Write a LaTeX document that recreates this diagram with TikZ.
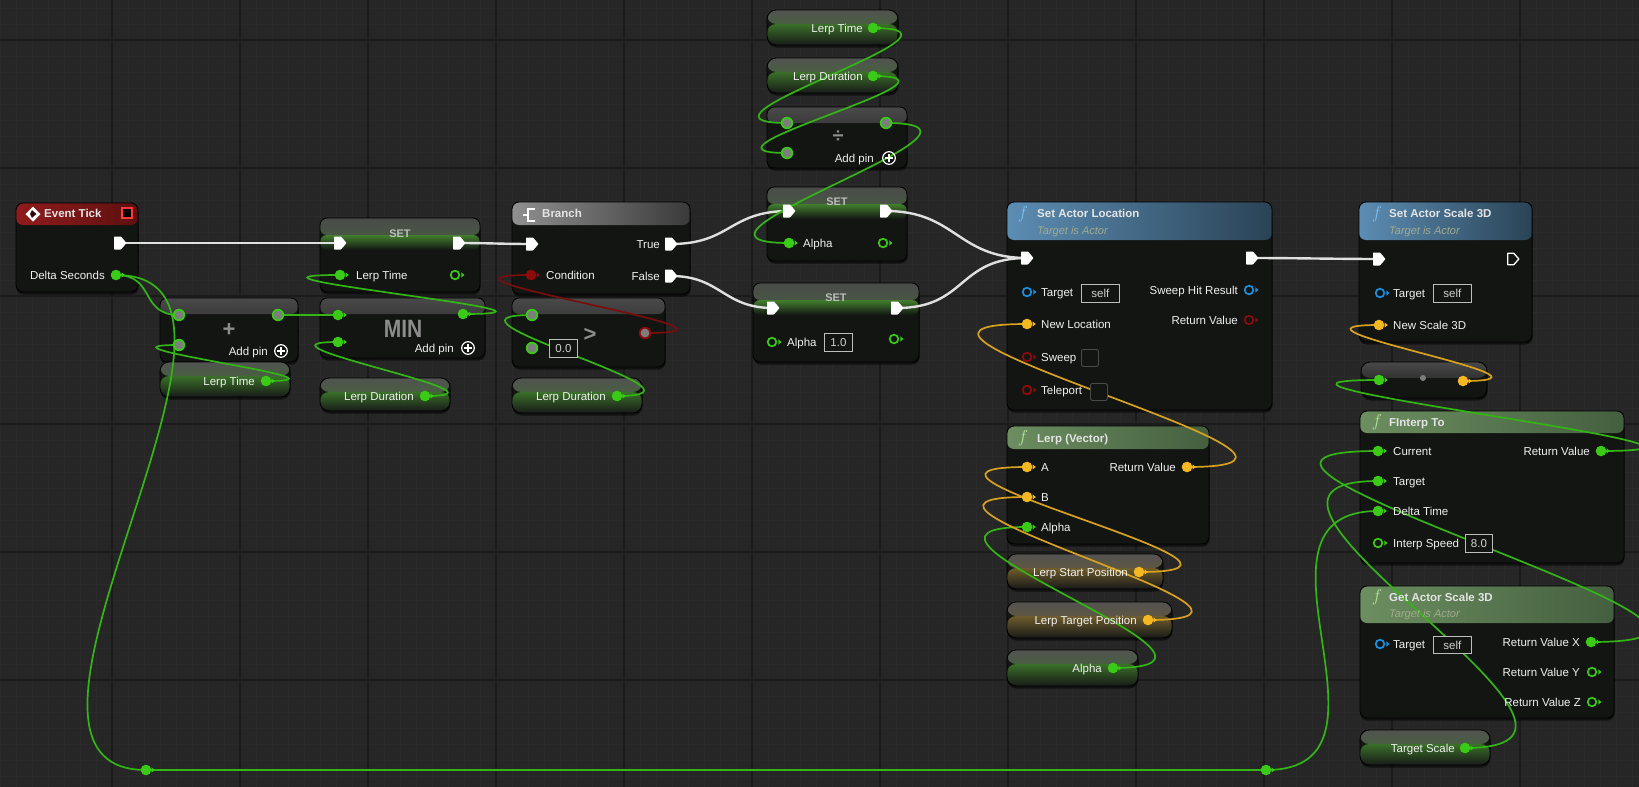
\documentclass[tikz,border=0pt]{standalone}
\usepackage{fontspec}
\setmainfont{Liberation Sans}
\usetikzlibrary{shadows}
\definecolor{bg}{HTML}{262626}
\definecolor{gminor}{HTML}{2A2A2A}
\definecolor{gmajor}{HTML}{1B1B1B}
\definecolor{body}{HTML}{131513}
\definecolor{evL}{HTML}{901C1C}
\definecolor{evR}{HTML}{5E1010}
\definecolor{brL}{HTML}{909090}
\definecolor{brR}{HTML}{3A3A3A}
\definecolor{buL}{HTML}{5C8DB3}
\definecolor{buR}{HTML}{2A4356}
\definecolor{grL}{HTML}{6C8E60}
\definecolor{grR}{HTML}{445F3F}
\definecolor{setT}{HTML}{4A4A4A}
\definecolor{setG}{HTML}{427F2E}
\definecolor{cmpT}{HTML}{4A4A4A}
\definecolor{getT}{HTML}{525252}
\definecolor{getG}{HTML}{3A7029}
\definecolor{getB}{HTML}{181A18}
\definecolor{yelG}{HTML}{6E5C2C}
\definecolor{txt}{HTML}{F0F0F0}
\definecolor{ttlc}{HTML}{E4E4E4}
\definecolor{setc}{HTML}{BDBDBD}
\definecolor{subc}{HTML}{A3AB8E}
\definecolor{boxc}{HTML}{BDBDBD}
\definecolor{boxt}{HTML}{D0D0D0}
\definecolor{chkc}{HTML}{4A4A4A}
\definecolor{opc}{HTML}{8C8C8C}
\definecolor{fblue}{HTML}{7CC0F0}
\definecolor{fgreen}{HTML}{B4E49A}
\definecolor{pgreen}{HTML}{3ACB16}
\definecolor{wgreen}{HTML}{33B515}
\definecolor{pyellow}{HTML}{F5B820}
\definecolor{wyellow}{HTML}{D9A21E}
\definecolor{pred}{HTML}{8E0B0B}
\definecolor{wred}{HTML}{7A0D0D}
\definecolor{pblue}{HTML}{1B8FE0}
\definecolor{wexec}{HTML}{E0E0E0}
\definecolor{wildg}{HTML}{7D7D7D}
\definecolor{evsq}{HTML}{FF3A3A}

\newcommand\lblfont{\fontsize{11.5pt}{13pt}\selectfont}
\newcommand\subfont{\fontsize{11pt}{13pt}\selectfont}
\newcommand\bpn[6]{\node[#2, minimum width={(#5-(#3))*1pt}, minimum height={(#6-(#4))*1pt}] (#1) at (#3,#4) {};}
\newcommand\wire[4]{\draw[#1] (#2) .. controls ([xshift=#4pt]#2) and ([xshift=-#4pt]#3) .. (#3);}
\newcommand\pinX[1]{\fill[white, shift={(#1)}, rounded corners=0.7pt] (-6,-6.5) -- (1,-6.5) -- (6.5,0) -- (1,6.5) -- (-6,6.5) -- cycle;}
\newcommand\pinXo[1]{\draw[white, line width=1.3pt, line join=round, shift={(#1)}] (-5.3,-5.8) -- (0.7,-5.8) -- (5.8,0) -- (0.7,5.8) -- (-5.3,5.8) -- cycle;}
\newcommand\pinD[2]{\fill[#1] (#2) circle (5.3pt); \fill[#1, shift={(#2)}] (5.5,-2.6) -- (8.8,0) -- (5.5,2.6) -- cycle;}
\newcommand\pinH[2]{\draw[#1, line width=1.7pt, fill=body] (#2) circle (4.3pt); \fill[#1, shift={(#2)}] (6.4,-2.6) -- (9.4,0) -- (6.4,2.6) -- cycle;}
\newcommand\pinW[2]{\fill[#1] (#2) circle (6.2pt); \fill[wildg] (#2) circle (4.4pt);}
\newcommand\addpin[2]{\draw[white, line width=1.2pt] (#1,#2) circle (6.3pt); \draw[white, line width=1.4pt] (#1-3.6,#2) -- (#1+3.6,#2) (#1,#2-3.6) -- (#1,#2+3.6);}

\begin{document}
\begin{tikzpicture}[x=1pt,y=-1pt,
  bp/.style={draw=black, line width=0.9pt, rounded corners=7pt, fill=body, inner sep=0pt, outer sep=0pt, anchor=north west,
     drop shadow={shadow xshift=0.5pt, shadow yshift=-2.5pt, opacity=0.55, fill=black}},
  hdr/.style n args={3}{path picture={\shade[left color=#1, right color=#2] ([yshift=1pt]path picture bounding box.north west) rectangle ([yshift=-#3pt]path picture bounding box.north east);}},
  seth/.style={path picture={\shade[top color=setT, bottom color=setG] ([yshift=1pt]path picture bounding box.north west) rectangle ([yshift=-17pt]path picture bounding box.north east);
      \shade[top color=setG, bottom color=body] ([yshift=-17pt]path picture bounding box.north west) rectangle ([yshift=-#1pt]path picture bounding box.north east);}},
  cmph/.style={path picture={\shade[top color=cmpT, bottom color=body] ([yshift=1pt]path picture bounding box.north west) rectangle ([yshift=-16pt]path picture bounding box.north east);}},
  getter/.style={bp, rounded corners=9pt, path picture={\shade[top color=getT, bottom color=#1] ([yshift=1pt]path picture bounding box.north west) rectangle ([yshift=-14pt]path picture bounding box.north east);
      \shade[top color=#1, bottom color=getB] ([yshift=-14pt]path picture bounding box.north west) rectangle (path picture bounding box.south east);}},
  getter/.default=getG,
  lbl/.style={inner sep=0pt, text=txt, font=\lblfont, text height=8.2pt, text depth=0pt},
  ttl/.style={inner sep=0pt, text=ttlc, font=\lblfont\bfseries, anchor=west, text height=8.2pt, text depth=0pt},
  sett/.style={inner sep=0pt, text=setc, font=\fontsize{11pt}{12pt}\selectfont\bfseries, text height=8pt, text depth=0pt},
  sub/.style={inner sep=0pt, text=subc, font=\subfont\itshape, anchor=west, text height=8pt, text depth=0pt},
  fic/.style={inner sep=0pt, font=\fontsize{17pt}{17pt}\selectfont},
  opt/.style={inner sep=0pt, text=opc, font=\fontsize{22pt}{22pt}\selectfont\bfseries},
  tbox/.style={draw=boxc, line width=0.8pt, fill=body, text=boxt, font=\lblfont, inner sep=0pt, anchor=north west},
  chk/.style={draw=chkc, line width=0.9pt, rounded corners=2pt, fill=body, inner sep=0pt, anchor=north west, minimum size=17pt},
  exw/.style={line width=2.4pt, draw=wexec},
  gw/.style={line width=1.7pt, draw=wgreen},
  yw/.style={line width=1.7pt, draw=wyellow},
  rw/.style={line width=1.7pt, draw=wred},
]
\useasboundingbox (0,0) rectangle (1639,787);
\clip (0,0) rectangle (1639,787);
\fill[bg] (0,0) rectangle (1639,787);
\foreach \x in {0,16,...,1632} \draw[gminor, line width=0.7pt] (\x,0) -- (\x,787);
\foreach \y in {8,24,...,776} \draw[gminor, line width=0.7pt] (0,\y) -- (1639,\y);
\foreach \x in {112,240,...,1520} \draw[gmajor, line width=1.3pt] (\x,0) -- (\x,787);
\foreach \y in {40,168,...,680} \draw[gmajor, line width=1.3pt] (0,\y) -- (1639,\y);

% ---------- node bodies ----------
\bpn{evt}{bp, hdr={evL}{evR}{22}}{16}{203}{138}{292}
\bpn{set1}{bp, seth=32}{320}{218}{480}{292}
\bpn{plus}{bp, cmph}{160}{298}{298}{362}
\bpn{glt1}{getter}{160}{362}{290}{397}
\bpn{min}{bp, cmph}{320}{298}{485}{358}
\bpn{gld1}{getter}{320}{378}{450}{411}
\bpn{br}{bp, hdr={brL}{brR}{23}}{512}{202}{690}{294}
\bpn{gt}{bp, cmph}{512}{298}{665}{367}
\bpn{gld2}{getter}{512}{378}{642}{413}
\bpn{glt2}{getter}{767}{10}{898}{45}
\bpn{gld3}{getter}{767}{58}{898}{93}
\bpn{div}{bp, cmph}{767}{107}{907}{168}
\bpn{seta}{bp, seth=32}{767}{187}{907}{261}
\bpn{setb}{bp, seth=32}{753}{283}{919}{362}
\bpn{sal}{bp, hdr={buL}{buR}{38}}{1007}{202}{1272}{410}
\bpn{lerp}{bp, hdr={grL}{grR}{23}}{1007}{426}{1209}{544}
\bpn{glsp}{getter=yelG}{1007}{554}{1163}{589}
\bpn{gltp}{getter=yelG}{1007}{602}{1172}{638}
\bpn{gal}{getter}{1007}{650}{1138}{686}
\bpn{sas}{bp, hdr={buL}{buR}{38}}{1359}{202}{1532}{342}
\bpn{mk}{bp, cmph, rounded corners=9pt}{1361}{362}{1487}{398}
\bpn{fi}{bp, hdr={grL}{grR}{22}}{1360}{411}{1624}{563}
\bpn{gas}{bp, hdr={grL}{grR}{37}}{1360}{586}{1614}{718}
\bpn{gts}{getter}{1360}{730}{1490}{765}

% ---------- pin coordinates ----------
\coordinate (evt-x) at (120,243);  \coordinate (evt-ds) at (116,275);
\coordinate (s1-xi) at (340,243);  \coordinate (s1-xo) at (459,243);
\coordinate (s1-lt) at (340,275);  \coordinate (s1-o) at (455,275);
\coordinate (pl-a) at (179,315);   \coordinate (pl-b) at (179,345);  \coordinate (pl-o) at (278,315);
\coordinate (lt1) at (266,381);
\coordinate (mn-a) at (338,315);   \coordinate (mn-b) at (338,342);  \coordinate (mn-o) at (463,314);
\coordinate (ld1) at (425,396);
\coordinate (br-xi) at (532,244);  \coordinate (br-t) at (671,244);
\coordinate (br-f) at (671,276);   \coordinate (br-c) at (531,275);
\coordinate (gt-a) at (532,315);   \coordinate (gt-b) at (532,348);  \coordinate (gt-o) at (645,333);
\coordinate (ld2) at (617,396);
\coordinate (lt2) at (873,28);     \coordinate (ld3) at (873,76);
\coordinate (dv-a) at (787,123);   \coordinate (dv-b) at (787,153);  \coordinate (dv-o) at (886,123);
\coordinate (sa-xi) at (789,211);  \coordinate (sa-xo) at (886,211);
\coordinate (sa-al) at (789,243);  \coordinate (sa-o) at (883,243);
\coordinate (sb-xi) at (773,308);  \coordinate (sb-xo) at (897,308);
\coordinate (sb-al) at (772,342);  \coordinate (sb-o) at (894,339);
\coordinate (sl-xi) at (1027,258); \coordinate (sl-xo) at (1252,258);
\coordinate (sl-tg) at (1027,292); \coordinate (sl-nl) at (1027,324);
\coordinate (sl-sw) at (1027,357); \coordinate (sl-tp) at (1027,390);
\coordinate (sl-sh) at (1249,290); \coordinate (sl-rv) at (1249,320);
\coordinate (lp-a) at (1027,467);  \coordinate (lp-b) at (1027,497);
\coordinate (lp-al) at (1027,527); \coordinate (lp-rv) at (1187,467);
\coordinate (lsp) at (1139,572);   \coordinate (ltp) at (1148,620);  \coordinate (alg) at (1113,668);
\coordinate (ss-xi) at (1379,259); \coordinate (ss-xo) at (1513,259);
\coordinate (ss-tg) at (1380,293); \coordinate (ss-sc) at (1379,325);
\coordinate (mk-i) at (1379,380);  \coordinate (mk-o) at (1463,381);
\coordinate (fi-cu) at (1378,451); \coordinate (fi-tg) at (1378,481);
\coordinate (fi-dt) at (1378,511); \coordinate (fi-is) at (1378,543);
\coordinate (fi-rv) at (1601,451);
\coordinate (ga-tg) at (1380,644); \coordinate (ga-x) at (1591,642);
\coordinate (ga-y) at (1592,672);  \coordinate (ga-z) at (1592,702);
\coordinate (ts) at (1465,748);
\coordinate (rr1) at (146,770);    \coordinate (rr2) at (1266,770);

% ---------- wires ----------
\wire{exw}{evt-x}{s1-xi}{40}
\wire{exw}{s1-xo}{br-xi}{30}
\wire{exw}{br-t}{sa-xi}{60}
\wire{exw}{br-f}{sb-xi}{50}
\wire{exw}{sa-xo}{sl-xi}{70}
\wire{exw}{sb-xo}{sl-xi}{70}
\wire{exw}{sl-xo}{ss-xi}{40}
\wire{gw}{evt-ds}{pl-a}{40}
\wire{gw}{evt-ds}{rr1}{190}
\draw[gw] (rr1) -- (rr2);
\wire{gw}{rr2}{fi-dt}{150}
\wire{gw}{pl-o}{mn-a}{25}
\wire{gw}{lt1}{pl-b}{105}
\wire{gw}{mn-o}{s1-lt}{150}
\wire{gw}{ld1}{mn-b}{105}
\wire{gw}{ld2}{gt-a}{120}
\wire{rw}{gt-o}{br-c}{145}
\wire{gw}{lt2}{dv-a}{125}
\wire{gw}{ld3}{dv-b}{115}
\wire{gw}{dv-o}{sa-al}{150}
\wire{gw}{alg}{lp-al}{175}
\wire{yw}{lsp}{lp-a}{180}
\wire{yw}{ltp}{lp-b}{190}
\wire{yw}{lp-rv}{sl-nl}{218}
\wire{yw}{mk-o}{ss-sc}{125}
\wire{gw}{fi-rv}{mk-i}{210}
\wire{gw}{ga-x}{fi-cu}{263}
\wire{gw}{ts}{fi-tg}{205}

% ---------- pins ----------
\pinX{evt-x} \pinD{pgreen}{evt-ds}
\pinX{s1-xi} \pinX{s1-xo} \pinD{pgreen}{s1-lt} \pinH{pgreen}{s1-o}
\pinW{pgreen}{pl-a} \pinW{pgreen}{pl-b} \pinW{pgreen}{pl-o}
\pinD{pgreen}{lt1}
\pinD{pgreen}{mn-a} \pinD{pgreen}{mn-b} \pinD{pgreen}{mn-o}
\pinD{pgreen}{ld1}
\pinX{br-xi} \pinX{br-t} \pinX{br-f} \pinD{pred}{br-c}
\pinW{pgreen}{gt-a} \pinW{pgreen}{gt-b} \pinW{pred}{gt-o}
\pinD{pgreen}{ld2}
\pinD{pgreen}{lt2} \pinD{pgreen}{ld3}
\pinW{pgreen}{dv-a} \pinW{pgreen}{dv-b} \pinW{pgreen}{dv-o}
\pinX{sa-xi} \pinX{sa-xo} \pinD{pgreen}{sa-al} \pinH{pgreen}{sa-o}
\pinX{sb-xi} \pinX{sb-xo} \pinH{pgreen}{sb-al} \pinH{pgreen}{sb-o}
\pinX{sl-xi} \pinX{sl-xo}
\pinH{pblue}{sl-tg} \pinD{pyellow}{sl-nl} \pinH{pred}{sl-sw} \pinH{pred}{sl-tp}
\pinH{pblue}{sl-sh} \pinH{pred}{sl-rv}
\pinD{pyellow}{lp-a} \pinD{pyellow}{lp-b} \pinD{pgreen}{lp-al} \pinD{pyellow}{lp-rv}
\pinD{pyellow}{lsp} \pinD{pyellow}{ltp} \pinD{pgreen}{alg}
\pinX{ss-xi} \pinXo{ss-xo} \pinH{pblue}{ss-tg} \pinD{pyellow}{ss-sc}
\pinD{pgreen}{mk-i} \pinD{pyellow}{mk-o}
\fill[wildg] (1423,378) circle (3pt);
\pinD{pgreen}{fi-cu} \pinD{pgreen}{fi-tg} \pinD{pgreen}{fi-dt} \pinH{pgreen}{fi-is} \pinD{pgreen}{fi-rv}
\pinH{pblue}{ga-tg} \pinD{pgreen}{ga-x} \pinH{pgreen}{ga-y} \pinH{pgreen}{ga-z}
\pinD{pgreen}{ts}
\pinD{pgreen}{rr1} \pinD{pgreen}{rr2}

% ---------- icons ----------
\fill[white, shift={(33,214)}] (0,-7.5) -- (7.5,0) -- (0,7.5) -- (-7.5,0) -- cycle;
\fill[evR!50!black, shift={(34,214)}] (-2,-3.8) -- (2.5,0) -- (-2,3.8) -- (-4,0) -- cycle;
\draw[evsq, line width=1.5pt, fill=black] (122,208) rectangle (132,218);
\draw[white, line width=2pt] (523,215) -- (528,215) (528,208.5) -- (528,221.5) (527,209) -- (535,209) (527,221) -- (535,221);
\addpin{281}{351}
\addpin{468}{348}
\addpin{889}{158}

% ---------- texts ----------
\node[ttl] (evt-t) at (44,213) {Event Tick};
\node[lbl, anchor=east] (evt-l) at (105,275) {Delta Seconds};
\node[sett] (set1-t) at (400,233) {SET};
\node[lbl, anchor=west] (set1-l) at (356,275) {Lerp Time};
\node[opt] (plus-s) at (229,330) {+};
\node[lbl, anchor=east] (plus-ap) at (268,351) {Add pin};
\node[lbl, anchor=east] (glt1-l) at (255,381) {Lerp Time};
\node[opt, font=\fontsize{25pt}{25pt}\selectfont\bfseries, xscale=0.84, transform shape] (min-s) at (403,329) {MIN};
\node[lbl, anchor=east] (min-ap) at (454,348) {Add pin};
\node[lbl, anchor=east] (gld1-l) at (414,396) {Lerp Duration};
\node[ttl] (br-tt) at (542,213) {Branch};
\node[lbl, anchor=east] (br-tl) at (660,244) {True};
\node[lbl, anchor=east] (br-fl) at (660,276) {False};
\node[lbl, anchor=west] (br-cl) at (546,275) {Condition};
\node[tbox, minimum width=28pt, minimum height=18pt] (gt-box) at (549,339) {0.0};
\node[opt] (gt-s) at (590,335) {>};
\node[lbl, anchor=east] (gld2-l) at (606,396) {Lerp Duration};
\node[lbl, anchor=east] (glt2-l) at (863,28) {Lerp Time};
\node[lbl, anchor=east] (gld3-l) at (863,76) {Lerp Duration};
\node[opt, font=\fontsize{20pt}{20pt}\selectfont\bfseries] (div-s) at (838,137) {÷};
\node[lbl, anchor=east] (div-ap) at (874,158) {Add pin};
\node[sett] (seta-t) at (837,201) {SET};
\node[lbl, anchor=west] (seta-l) at (803,243) {Alpha};
\node[sett] (setb-t) at (836,297) {SET};
\node[lbl, anchor=west] (setb-l) at (787,342) {Alpha};
\node[tbox, minimum width=28pt, minimum height=18pt] (setb-box) at (824,333) {1.0};

\node[fic, text=fblue] (sal-f) at (1023,214) {$f$};
\node[ttl] (sal-t) at (1037,213) {Set Actor Location};
\node[sub] (sal-s) at (1037,230) {Target is Actor};
\node[lbl, anchor=west] (sal-l1) at (1041,292) {Target};
\node[tbox, minimum width=38pt, minimum height=18pt] (sal-self) at (1081,284) {self};
\node[lbl, anchor=west] (sal-l2) at (1041,324) {New Location};
\node[lbl, anchor=west] (sal-l3) at (1041,357) {Sweep};
\node[chk] (sal-c1) at (1081,349) {};
\node[lbl, anchor=west] (sal-l4) at (1041,390) {Teleport};
\node[chk] (sal-c2) at (1090,383) {};
\node[lbl, anchor=east] (sal-r1) at (1238,290) {Sweep Hit Result};
\node[lbl, anchor=east] (sal-r2) at (1238,320) {Return Value};

\node[fic, text=fgreen] (lerp-f) at (1023,438) {$f$};
\node[ttl] (lerp-t) at (1037,438) {Lerp (Vector)};
\node[lbl, anchor=west] (lerp-la) at (1041,467) {A};
\node[lbl, anchor=west] (lerp-lb) at (1041,497) {B};
\node[lbl, anchor=west] (lerp-lc) at (1041,527) {Alpha};
\node[lbl, anchor=east] (lerp-lr) at (1176,467) {Return Value};
\node[lbl, anchor=east] (glsp-l) at (1128,572) {Lerp Start Position};
\node[lbl, anchor=east] (gltp-l) at (1137,620) {Lerp Target Position};
\node[lbl, anchor=east] (gal-l) at (1102,668) {Alpha};

\node[fic, text=fblue] (sas-f) at (1377,214) {$f$};
\node[ttl] (sas-t) at (1389,213) {Set Actor Scale 3D};
\node[sub] (sas-s) at (1389,230) {Target is Actor};
\node[lbl, anchor=west] (sas-l1) at (1393,293) {Target};
\node[tbox, minimum width=38pt, minimum height=18pt] (sas-self) at (1433,284) {self};
\node[lbl, anchor=west] (sas-l2) at (1393,325) {New Scale 3D};

\node[fic, text=fgreen] (fi-f) at (1377,422) {$f$};
\node[ttl] (fi-t) at (1389,422) {FInterp To};
\node[lbl, anchor=west] (fi-l1) at (1393,451) {Current};
\node[lbl, anchor=west] (fi-l2) at (1393,481) {Target};
\node[lbl, anchor=west] (fi-l3) at (1393,511) {Delta Time};
\node[lbl, anchor=west] (fi-l4) at (1393,543) {Interp Speed};
\node[tbox, minimum width=27pt, minimum height=18pt] (fi-box) at (1465,534) {8.0};
\node[lbl, anchor=east] (fi-lr) at (1590,451) {Return Value};

\node[fic, text=fgreen] (gas-f) at (1377,597) {$f$};
\node[ttl] (gas-t) at (1389,597) {Get Actor Scale 3D};
\node[sub] (gas-s) at (1389,613) {Target is Actor};
\node[lbl, anchor=west] (gas-l1) at (1393,644) {Target};
\node[tbox, minimum width=38pt, minimum height=17pt] (gas-self) at (1433,636) {self};
\node[lbl, anchor=east] (gas-rx) at (1580,642) {Return Value X};
\node[lbl, anchor=east] (gas-ry) at (1580,672) {Return Value Y};
\node[lbl, anchor=east] (gas-rz) at (1581,702) {Return Value Z};
\node[lbl, anchor=east] (gts-l) at (1455,748) {Target Scale};
\end{tikzpicture}
\end{document}
